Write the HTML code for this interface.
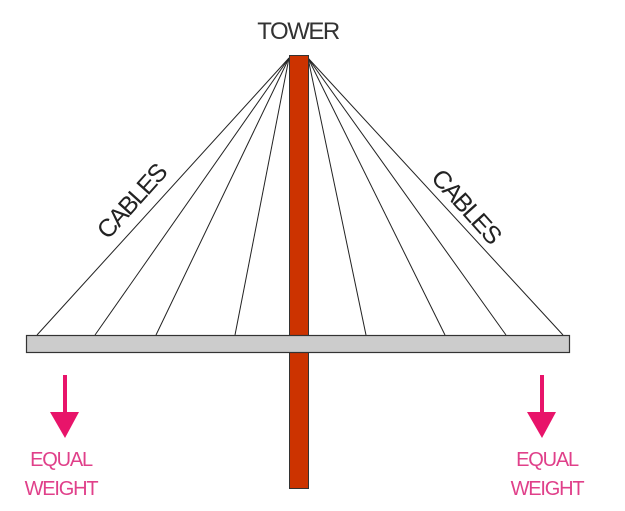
<!DOCTYPE html>
<html><head><style>
html,body{margin:0;padding:0;background:#fff;}
</style></head><body>
<svg width="625" height="506" viewBox="0 0 625 506" xmlns="http://www.w3.org/2000/svg">
<g stroke="#222" stroke-width="1">
<line x1="289" y1="58" x2="37" y2="335"/>
<line x1="289" y1="58" x2="95" y2="335"/>
<line x1="289" y1="58" x2="156" y2="335"/>
<line x1="289" y1="58" x2="235" y2="335"/>
<line x1="308" y1="58" x2="366" y2="335"/>
<line x1="308" y1="58" x2="445" y2="335"/>
<line x1="308" y1="58" x2="506" y2="335"/>
<line x1="308" y1="58" x2="563" y2="335"/>
</g>
<rect x="289.5" y="55.5" width="19" height="433" fill="#cc3300" stroke="#333" stroke-width="1"/>
<rect x="26.5" y="335.5" width="543" height="17" fill="#cccccc" stroke="#333" stroke-width="1.2"/>
<text x="298" y="39" text-anchor="middle" font-family="Liberation Sans, sans-serif" font-size="24" fill="#333" letter-spacing="-1.5">TOWER</text>
<text transform="translate(138,207) rotate(-48)" text-anchor="middle" font-family="Liberation Sans, sans-serif" font-size="25" fill="#222" letter-spacing="-1.5">CABLES</text>
<text transform="translate(460,212) rotate(48)" text-anchor="middle" font-family="Liberation Sans, sans-serif" font-size="25" fill="#222" letter-spacing="-1.5">CABLES</text>
<g fill="#e8146a" stroke="none">
<rect x="63" y="375" width="4" height="40"/>
<polygon points="50,412 79,412 65,438"/>
<rect x="540" y="375" width="4" height="40"/>
<polygon points="527,412 556,412 542,438"/>
</g>
<g font-family="Liberation Sans, sans-serif" font-size="20" fill="#e0408a" text-anchor="middle" letter-spacing="-1.2">
<text x="61" y="466">EQUAL</text>
<text x="61" y="495">WEIGHT</text>
<text x="547" y="466">EQUAL</text>
<text x="547" y="495">WEIGHT</text>
</g>
</svg>
</body></html>
